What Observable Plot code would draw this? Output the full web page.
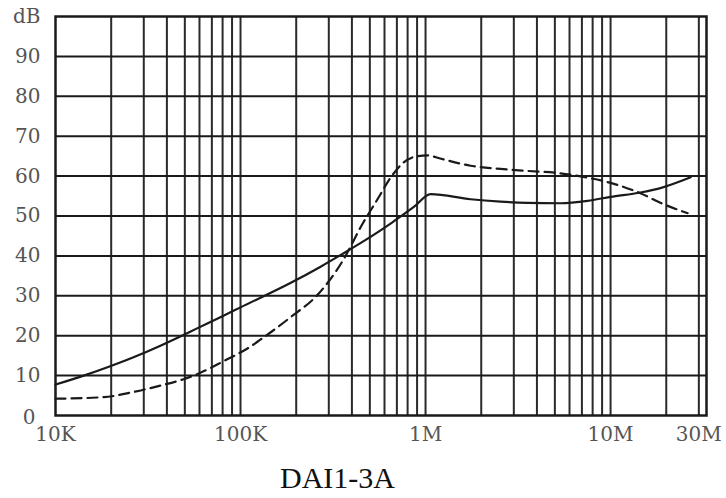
<!DOCTYPE html>
<html>
<head>
<meta charset="utf-8">
<script src="https://cdn.jsdelivr.net/npm/d3@7"></script>
<script src="https://cdn.jsdelivr.net/npm/@observablehq/plot@0.6"></script>
<style>
  body { margin: 0; background: #fff; }
  #caption { font-family: "Liberation Serif", "Times New Roman", serif; font-size: 30px; color: #111;
             padding-left: 280px; line-height: 48px; padding-top: 4px; }
</style>
</head>
<body>
<div id="chart"></div>
<div id="caption">DAI1-3A</div>
<script>
// Solid curve (frequency in Hz, level in dB)
const solidFreq = [1e4, 1.42e4, 1.91e4, 2.64e4, 3.69e4, 4.57e4, 5.86e4, 8.09e4, 1.0e5, 1.86e5, 2.71e5, 3.56e5, 4.56e5, 5.5e5, 6.47e5, 7.6e5, 8.61e5, 1.065e6, 1.75e6, 2.54e6, 3.56e6, 5.37e6, 7.51e6, 1e7, 1.45e7, 1.86e7, 2.71e7];
const solidDb   = [7.75, 10, 12.1, 14.6, 17.5, 19.5, 21.9, 25, 27.1, 33.2, 37.3, 40.5, 43.5, 45.9, 48.1, 50.4, 52.2, 55.5, 54.2, 53.6, 53.3, 53.2, 53.8, 54.8, 55.9, 57, 59.7];
// Dashed curve
const dashFreq = [1e4, 1.82e4, 2.64e4, 3.69e4, 4.92e4, 5.86e4, 6.88e4, 8.09e4, 9.63e4, 1.09e5, 1.28e5, 1.86e5, 2.64e5, 3.56e5, 4.56e5, 5.5e5, 6.47e5, 7.6e5, 9.05e5, 1.026e6, 1.2e6, 1.75e6, 2.54e6, 3.56e6, 5.37e6, 7.14e6, 1e7, 1.45e7, 1.86e7, 2.61e7];
const dashDb   = [4.2, 4.6, 5.9, 7.5, 9.1, 10.4, 11.9, 13.6, 15.4, 16.8, 19, 24.6, 30.5, 38.7, 48, 54.2, 59.6, 63.4, 65, 65.2, 64.4, 62.6, 61.8, 61.3, 60.7, 59.8, 58.3, 55.7, 53.3, 50.7];

// Grid and ticks
const gridX = [2e4,3e4,4e4,5e4,6e4,7e4,8e4,9e4,1e5,2e5,3e5,4e5,5e5,6e5,7e5,8e5,9e5,1e6,2e6,3e6,4e6,5e6,6e6,7e6,8e6,9e6,1e7,2e7,3e7];
const gridY = [10,20,30,40,50,60,70,80,90];
const xTicks = [1e4, 1e5, 1e6, 1e7, 3e7];
const xTickLabels = ["10K", "100K", "1M", "10M", "30M"];
const yTicks = [10,20,30,40,50,60,70,80,90,100];
const yTickLabels = ["10","20","30","40","50","60","70","80","90","dB"];
const zeroLabel = ["0"];

const solid = solidFreq.map((f, i) => ({f, db: solidDb[i]}));
const dashed = dashFreq.map((f, i) => ({f, db: dashDb[i]}));

const txt = {fontSize: 20, fill: "#555", fontFamily: "DejaVu Serif"};

const chart = Plot.plot({
  width: 726,
  height: 450,
  marginLeft: 55,
  marginRight: 20,
  marginTop: 16,
  marginBottom: 35,
  style: {fontFamily: "DejaVu Serif", background: "#fff"},
  x: {type: "log", domain: [1e4, 3.3e7], label: null},
  y: {domain: [0, 100], label: null},
  marks: [
    Plot.ruleX(gridX, {stroke: "#2a2a2a", strokeWidth: 2}),
    Plot.ruleY(gridY, {stroke: "#1a1a1a", strokeWidth: 2}),
    Plot.frame({stroke: "#1a1a1a", strokeWidth: 2.5}),
    Plot.line(solid, {x: "f", y: "db", curve: "monotone-x", stroke: "#1a1a1a", strokeWidth: 2.2}),
    Plot.line(dashed, {x: "f", y: "db", curve: "monotone-x", stroke: "#1a1a1a", strokeWidth: 2.2, strokeDasharray: "10,6"}),
    Plot.axisX({ticks: xTicks, tickFormat: d => xTickLabels[xTicks.indexOf(d)], tickSize: 0, tickPadding: 11, label: null, ...txt}),
    Plot.axisY({ticks: yTicks, tickFormat: d => yTickLabels[yTicks.indexOf(d)], tickSize: 0, tickPadding: 15, label: null, ...txt}),
    Plot.text(zeroLabel, {x: () => 1e4, y: () => 0, text: d => d, dx: -20, dy: 2, textAnchor: "end", ...txt})
  ]
});
document.getElementById("chart").append(chart);
</script>
</body>
</html>
